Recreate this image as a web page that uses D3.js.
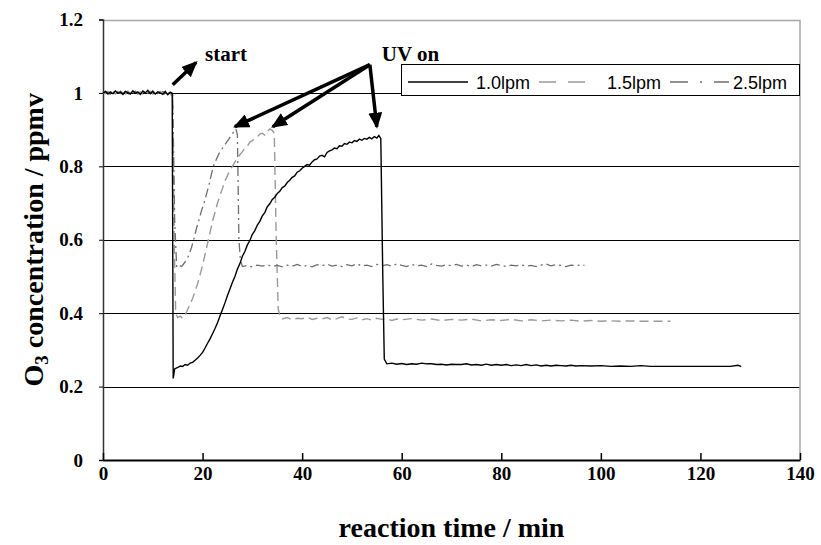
<!DOCTYPE html>
<html>
<head>
<meta charset="utf-8">
<script src="https://cdn.jsdelivr.net/npm/d3@7"></script>
<style>
  body { margin: 0; background: #fff; }
  svg { display: block; }
</style>
</head>
<body>
<svg id="chart" width="821" height="545"></svg>
<script>
// 1.0 lpm
const time10 = [0,0.5,1,1.5,2,2.5,3,3.5,4,4.5,5,5.5,6,6.5,7,7.5,8,8.5,9,9.5,10,10.5,11,11.5,12,12.5,13,13.5,13.9,
  14.1,14.4,15,15.5,16,16.5,17,17.5,18,18.5,19,19.5,20,20.5,21,21.5,22,22.5,23,23.5,24,24.5,25,25.5,26,26.5,27,27.5,28,28.5,29,29.5,
  30,30.5,31,31.5,32,32.5,33,33.5,34,34.5,35,35.5,36,36.5,37,37.5,38,38.5,39,39.5,40,40.5,41,41.5,42,42.5,43,43.5,44,44.5,
  45,45.5,46,46.5,47,47.5,48,48.5,49,49.5,50,50.5,51,51.5,52,52.5,53,53.5,54,54.5,55,55.4,55.8,56.2,56.5,57,58,59,60,61,62,63,64,65,
  66,67,68,69,70,71,72,73,74,75,76,77,78,79,80,81,82,83,84,85,86,87,88,89,90,91,92,93,94,95,96,98,100,102,104,106,108,110,112,
  114,116,118,120,122,124,126,127.5,128.2];
const o3_10 = [1.000,1.004,0.997,1.003,0.998,1.005,0.999,1.002,0.996,1.004,1.001,0.997,1.006,0.999,1.003,0.996,1.005,1.000,1.007,0.998,1.004,0.997,1.003,1.000,0.996,1.004,0.995,1.002,0.999,
  0.222,0.248,0.252,0.256,0.255,0.260,0.258,0.264,0.266,0.272,0.278,0.285,0.293,0.305,0.318,0.330,0.344,0.358,0.374,0.392,0.410,0.428,0.448,0.466,0.484,0.500,0.520,0.535,0.555,0.568,0.586,0.598,
  0.615,0.625,0.640,0.650,0.665,0.674,0.690,0.698,0.710,0.716,0.726,0.732,0.742,0.746,0.756,0.762,0.770,0.774,0.784,0.788,0.795,0.800,0.805,0.803,0.812,0.818,0.820,0.828,0.830,0.826,
  0.838,0.842,0.845,0.850,0.848,0.856,0.855,0.862,0.860,0.866,0.864,0.870,0.868,0.874,0.871,0.876,0.874,0.879,0.875,0.881,0.877,0.884,0.876,0.500,0.275,0.262,0.264,0.261,0.263,0.260,0.262,0.261,0.264,0.262,
  0.262,0.260,0.261,0.259,0.261,0.260,0.260,0.262,0.259,0.260,0.258,0.261,0.258,0.260,0.258,0.260,0.257,0.259,0.257,0.260,0.257,0.259,0.256,0.258,0.256,0.258,0.257,0.256,0.258,0.256,0.257,0.256,0.257,0.255,0.256,0.255,0.257,0.255,0.255,
  0.255,0.255,0.255,0.255,0.255,0.255,0.255,0.258,0.255];

// 1.5 lpm
const time15 = [0,0.5,1,1.5,2,2.5,3,3.5,4,4.5,5,5.5,6,6.5,7,7.5,8,8.5,9,9.5,10,10.5,11,11.5,12,12.5,13,13.5,14,
  14.3,14.6,15,15.5,16,16.5,17,17.5,18,18.5,19,19.5,20,20.5,21,21.5,22,22.5,23,23.5,24,24.5,25,25.5,26,26.5,27,27.5,28,28.5,29,29.5,
  30,30.5,31,31.5,32,32.5,33,33.5,34,34.4,34.8,35.2,35.6,36,37,38,39,40,41,42,43,44,45,46,47,48,49,50,51,52,53,54,55,56,57,58,59,
  60,62,64,66,68,70,72,74,76,78,80,82,84,86,88,90,92,94,96,98,100,102,104,106,108,110,112,114];
const o3_15 = [1.002,0.998,1.004,0.999,1.003,0.997,1.004,0.998,1.002,0.997,1.005,0.999,1.002,1.004,0.998,1.003,0.997,1.004,1.000,1.005,0.997,1.002,0.998,1.004,0.999,0.996,1.003,0.998,0.990,
  0.600,0.400,0.388,0.392,0.386,0.395,0.410,0.425,0.440,0.460,0.480,0.505,0.530,0.560,0.590,0.620,0.650,0.675,0.700,0.720,0.740,0.760,0.775,0.790,0.800,0.812,0.820,0.832,0.840,0.850,0.855,0.866,
  0.870,0.876,0.880,0.888,0.890,0.885,0.895,0.902,0.898,0.890,0.600,0.410,0.390,0.384,0.388,0.382,0.386,0.385,0.389,0.383,0.386,0.384,0.388,0.382,0.385,0.390,0.384,0.383,0.387,0.382,0.385,0.381,0.386,0.383,0.385,0.380,0.384,
  0.382,0.385,0.381,0.384,0.380,0.383,0.381,0.384,0.379,0.382,0.380,0.383,0.379,0.382,0.379,0.381,0.379,0.381,0.378,0.380,0.378,0.379,0.378,0.379,0.378,0.378,0.378,0.378];

// 2.5 lpm
const time25 = [0,0.5,1,1.5,2,2.5,3,3.5,4,4.5,5,5.5,6,6.5,7,7.5,8,8.5,9,9.5,10,10.5,11,11.5,12,12.5,13,13.5,14,
  14.4,14.8,15.3,15.8,16.3,16.8,17.3,17.8,18.3,18.8,19.3,19.8,20.3,20.8,21.3,21.8,22.3,22.8,23.3,23.8,24.3,24.8,25.3,25.8,26.3,26.7,27,27.3,27.6,
  28,29,30,31,32,33,34,35,36,37,38,39,40,41,42,43,44,45,46,47,48,49,50,51,52,53,54,55,56,57,58,59,60,61,62,63,64,65,66,67,68,69,70,
  71,72,73,74,75,76,77,78,79,80,81,82,83,84,85,86,87,88,89,90,91,92,93,94,95,96,96.7];
const o3_25 = [0.998,1.003,1.000,0.996,1.004,1.001,0.997,1.005,0.999,1.003,0.996,1.002,0.999,1.005,0.997,1.001,1.004,0.998,1.003,0.999,1.006,0.998,1.002,0.997,1.004,1.000,0.997,1.003,0.995,
  0.650,0.525,0.530,0.527,0.536,0.545,0.560,0.580,0.605,0.632,0.655,0.680,0.700,0.725,0.750,0.780,0.805,0.820,0.835,0.845,0.855,0.865,0.875,0.885,0.895,0.902,0.885,0.600,0.545,
  0.527,0.530,0.526,0.531,0.528,0.532,0.527,0.530,0.526,0.531,0.528,0.533,0.527,0.530,0.526,0.532,0.529,0.534,0.528,0.531,0.527,0.532,0.529,0.535,0.528,0.531,0.527,0.533,0.529,0.532,0.528,0.534,0.530,0.527,0.533,0.529,0.531,0.527,0.534,0.530,0.528,0.532,0.529,
  0.533,0.528,0.531,0.527,0.532,0.529,0.531,0.528,0.533,0.530,0.527,0.531,0.529,0.532,0.528,0.530,0.527,0.531,0.534,0.529,0.532,0.530,0.527,0.531,0.529,0.532,0.530];

const yTicks = [0, 0.2, 0.4, 0.6, 0.8, 1, 1.2];
const xTicks = [0, 20, 40, 60, 80, 100, 120, 140];
const seriesNames = ["1.0lpm", "1.5lpm", "2.5lpm"];

const svg = d3.select('#chart');
const margin = {top: 19.5, right: 21, bottom: 85, left: 103};
const width = 821 - margin.left - margin.right;
const height = 545 - margin.top - margin.bottom;

const x = d3.scaleLinear().domain([0, 140]).range([margin.left, margin.left + width]);
const y = d3.scaleLinear().domain([0, 1.2]).range([margin.top + height, margin.top]);

const serif = '"Liberation Serif", "Times New Roman", serif';
const sans = '"Liberation Sans", Arial, sans-serif';

// gridlines
svg.append('g')
  .selectAll('line')
  .data(yTicks.filter(d => d > 0 && d < 1.2))
  .join('line')
  .attr('x1', x(0)).attr('x2', x(140))
  .attr('y1', d => Math.round(y(d)) + 0.5).attr('y2', d => Math.round(y(d)) + 0.5)
  .attr('stroke', '#000').attr('stroke-width', 1);

// plot border top / right (gray)
svg.append('path')
  .attr('d', `M${x(0)},${Math.round(y(1.2)) + 0.5}H${x(140)}V${y(0)}`)
  .attr('fill', 'none').attr('stroke', '#a8a8a8').attr('stroke-width', 1.5);

// axes
const yAxis = svg.append('g')
  .attr('transform', `translate(${x(0)},0)`)
  .call(d3.axisLeft(y).tickValues(yTicks).tickSize(4).tickPadding(16).tickFormat(d => String(+d.toFixed(1))));
yAxis.select('.domain').attr('stroke', '#333').attr('stroke-width', 1.5);

const xAxis = svg.append('g')
  .attr('transform', `translate(0,${y(0)})`)
  .call(d3.axisBottom(x).tickValues(xTicks).tickSizeInner(-7).tickSizeOuter(0).tickPadding(6));
xAxis.select('.domain').attr('stroke', '#000').attr('stroke-width', 2);
xAxis.selectAll('.tick line').attr('stroke', '#000').attr('stroke-width', 1.5);
xAxis.selectAll('.tick text').attr('dy', '0.72em');

svg.selectAll('.tick text')
  .attr('font-family', serif).attr('font-weight', 'bold').attr('font-size', 19)
  .style('font-family', serif).style('font-weight', 'bold').style('font-size', '19px')
  .attr('fill', '#000');

// series
const line = d3.line().x(d => x(d[0])).y(d => y(d[1]));
const toPts = (ts, vs) => ts.map((t, i) => [t, vs[i]]);

svg.append('path').datum(toPts(time15, o3_15))
  .attr('d', line).attr('fill', 'none').attr('stroke', '#9a9a9a').attr('stroke-width', 1.4)
  .attr('stroke-dasharray', '9,5');
svg.append('path').datum(toPts(time25, o3_25))
  .attr('d', line).attr('fill', 'none').attr('stroke', '#6e6e6e').attr('stroke-width', 1.3)
  .attr('stroke-dasharray', '9,4,2,4');
svg.append('path').datum(toPts(time10, o3_10))
  .attr('d', line).attr('fill', 'none').attr('stroke', '#000').attr('stroke-width', 1.4);

// arrows
const defs = svg.append('defs');
defs.append('marker')
  .attr('id', 'head').attr('markerUnits', 'userSpaceOnUse')
  .attr('viewBox', '0 0 16 14').attr('refX', 14).attr('refY', 7)
  .attr('markerWidth', 16).attr('markerHeight', 14).attr('orient', 'auto')
  .append('path').attr('d', 'M0,0L16,7L0,14Z').attr('fill', '#000');

const arrows = [
  {from: [14, 1.022], to: [18.7, 1.083]},
  {from: [53.6, 1.077], to: [26.5, 0.908]},
  {from: [53.6, 1.077], to: [34.1, 0.908]},
  {from: [53.6, 1.077], to: [55.0, 0.908]}
];
svg.append('g').selectAll('line').data(arrows).join('line')
  .attr('x1', d => x(d.from[0])).attr('y1', d => y(d.from[1]))
  .attr('x2', d => x(d.to[0])).attr('y2', d => y(d.to[1]))
  .attr('stroke', '#000').attr('stroke-width', 3.5)
  .attr('marker-end', 'url(#head)');

svg.append('text').attr('x', x(20.5)).attr('y', y(1.086))
  .attr('font-family', serif).attr('font-weight', 'bold').attr('font-size', 21)
  .text('start');
svg.append('text').attr('x', x(56)).attr('y', y(1.086))
  .attr('font-family', serif).attr('font-weight', 'bold').attr('font-size', 21)
  .text('UV on');

// legend
const lg = svg.append('g');
lg.append('rect').attr('x', 401.5).attr('y', 64.5).attr('width', 398).attr('height', 31)
  .attr('fill', '#fff').attr('stroke', '#000').attr('stroke-width', 1);
const legendItems = [
  {name: seriesNames[0], x1: 408, x2: 468, tx: 476, stroke: '#000', dash: null},
  {name: seriesNames[1], x1: 539, x2: 588, tx: 607, stroke: '#9a9a9a', dash: '17,12'},
  {name: seriesNames[2], x1: 670, x2: 729, tx: 733, stroke: '#6e6e6e', dash: '18,12,2,12'}
];
legendItems.forEach(d => {
  lg.append('line').attr('x1', d.x1).attr('x2', d.x2).attr('y1', 82).attr('y2', 82)
    .attr('stroke', d.stroke).attr('stroke-width', 1.4).attr('stroke-dasharray', d.dash);
  lg.append('text').attr('x', d.tx).attr('y', 88.5)
    .attr('font-family', sans).attr('font-size', 18).text(d.name);
});

// axis titles
svg.append('text')
  .attr('x', x(70)).attr('y', 537)
  .attr('text-anchor', 'middle')
  .attr('font-family', serif).attr('font-weight', 'bold').attr('font-size', 28)
  .text('reaction time / min');

const yt = svg.append('text')
  .attr('transform', `translate(43,${y(0.6)}) rotate(-90)`)
  .attr('text-anchor', 'middle')
  .attr('font-family', serif).attr('font-weight', 'bold').attr('font-size', 28);
yt.append('tspan').text('O');
yt.append('tspan').attr('font-size', 19).attr('dy', 5).text('3');
yt.append('tspan').attr('dy', -5).text(' concentration / ppmv');
</script>
</body>
</html>
